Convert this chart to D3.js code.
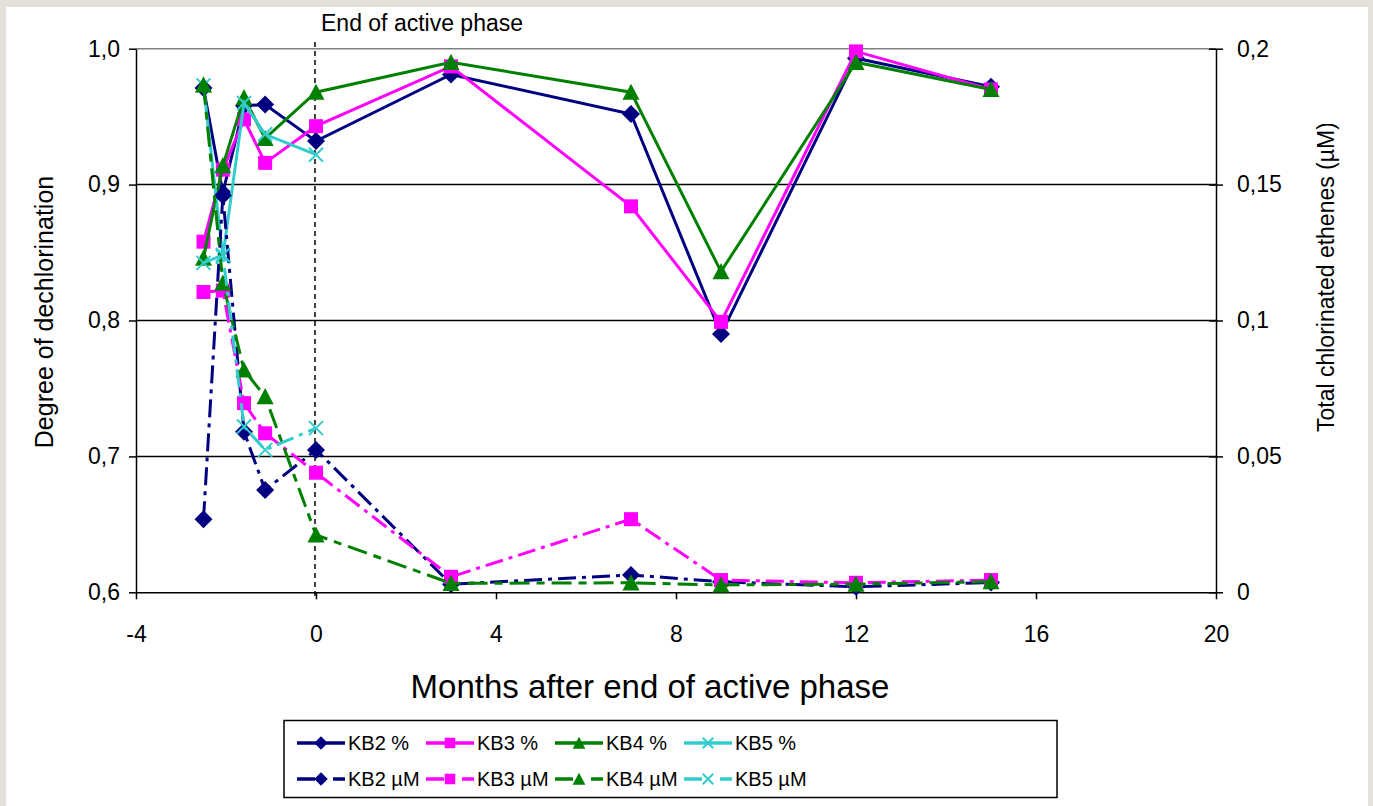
<!DOCTYPE html>
<html>
<head>
<meta charset="utf-8">
<script src="https://cdn.jsdelivr.net/npm/d3@7"></script>
<style>
  body { margin: 0; background: #e5e0da; }
  svg { display: block; }
  text { font-family: "Liberation Sans", Arial, sans-serif; fill: #000; }
</style>
</head>
<body>
<svg width="1373" height="806"></svg>
<script>
// months after end of active phase
const months = [-2.5, -2.07, -1.6, -1.13, 0, 3, 7, 9, 12, 15]

// degree of dechlorination (left axis)
const kb2Pct = [0.971, 0.894, 0.958, 0.959, 0.932, 0.981, 0.952, 0.790, 0.993, 0.972]
const kb3Pct = [0.858, 0.911, 0.948, 0.916, 0.943, 0.987, 0.884, 0.799, 0.998, 0.970]
const kb4Pct = [0.846, 0.914, 0.964, 0.934, 0.968, 0.990, 0.968, 0.836, 0.990, 0.970]
const kb5Pct = [0.973, 0.847, 0.960, 0.937, 0.922]

// total chlorinated ethenes, µM (right axis)
const kb2uM = [0.0269, 0.146, 0.0591, 0.0376, 0.0524, 0.0030, 0.0064, 0.0039, 0.0020, 0.0036]
const kb3uM = [0.1105, 0.111, 0.0696, 0.0585, 0.0440, 0.0057, 0.0269, 0.0045, 0.0035, 0.0045]
const kb4uM = [0.1867, 0.1138, 0.0818, 0.0720, 0.0211, 0.0033, 0.0035, 0.0027, 0.0030, 0.0039]
const kb5uM = [0.1212, 0.1241, 0.0610, 0.0524, 0.0604]

const xTicks = [-4, 0, 4, 8, 12, 16, 20]
const leftTicks = [0.6, 0.7, 0.8, 0.9, 1.0]
const rightTicks = [0, 0.05, 0.1, 0.15, 0.2]

const svg = d3.select("svg")

svg.append("rect").attr("x", 6).attr("y", 7).attr("width", 1362).attr("height", 799).attr("fill", "#fff")

let x = d3.scaleLinear().domain([-4, 20]).range([136, 1216])
let yL = d3.scaleLinear().domain([0.6, 1.0]).range([592.3, 48.7])
let yR = d3.scaleLinear().domain([0, 0.2]).range([592.3, 48.7])

const comma = d => String(d).replace(".", ",")

// gridlines
svg.append("g").selectAll("line").data([0.7, 0.8, 0.9]).enter().append("line")
  .attr("x1", x(-4)).attr("x2", x(20))
  .attr("y1", d => yL(d)).attr("y2", d => yL(d))
  .attr("stroke", "#000").attr("stroke-width", 1.5)
svg.append("line").attr("x1", x(-4)).attr("x2", x(20)).attr("y1", yL(1)).attr("y2", yL(1))
  .attr("stroke", "#808080").attr("stroke-width", 1.5)

// left axis
let leftAxis = d3.axisLeft(yL).tickValues(leftTicks).tickFormat(d => d3.format(".1f")(d).replace(".", ","))
  .tickSizeInner(7).tickSizeOuter(0).tickPadding(9)
let gl = svg.append("g").attr("transform", `translate(${x(-4)},0)`).call(leftAxis)

// right axis
let rightAxis = d3.axisRight(yR).tickValues(rightTicks).tickFormat(comma)
  .tickSizeInner(7).tickSizeOuter(0).tickPadding(14)
let gr = svg.append("g").attr("transform", `translate(${x(20)},0)`).call(rightAxis)
gr.selectAll(".tick line").attr("x1", -7)

// bottom axis (plain hyphen for negatives, like the original)
let bottomAxis = d3.axisBottom(x).tickValues(xTicks).tickFormat(d => String(d))
  .tickSizeInner(7).tickSizeOuter(0).tickPadding(26)
let gb = svg.append("g").attr("transform", `translate(0,${yL(0.6)})`).call(bottomAxis)

for (let g of [gl, gr, gb]) {
  g.select(".domain").attr("stroke", "#000").attr("stroke-width", 1.5)
  g.selectAll(".tick line").attr("stroke", "#000").attr("stroke-width", 1.5)
  g.selectAll("text").attr("font-size", 23).attr("font-family", "Liberation Sans, Arial, sans-serif")
}

// end of active phase marker
svg.append("line").attr("x1", x(0) - 1).attr("x2", x(0) - 1).attr("y1", 42).attr("y2", 600)
  .attr("stroke", "#000").attr("stroke-width", 1.5).attr("stroke-dasharray", "5,4")
svg.append("text").attr("x", 321).attr("y", 31).attr("font-size", 23).text("End of active phase")

// axis titles
svg.append("text").attr("transform", "translate(53,312) rotate(-90)").attr("text-anchor", "middle")
  .attr("font-size", 25).text("Degree of dechlorination")

// the right title is cut at its top end in the original
svg.append("clipPath").attr("id", "rclip")
  .append("rect").attr("x", 1290).attr("y", 124).attr("width", 70).attr("height", 400)
svg.append("g").attr("clip-path", "url(#rclip)")
  .append("text")
  .attr("transform", "translate(1334,432) rotate(-90)").attr("text-anchor", "start")
  .attr("font-size", 23).text("Total chlorinated ethenes (µM)")

svg.append("text").attr("x", 650).attr("y", 698).attr("text-anchor", "middle")
  .attr("font-size", 33).text("Months after end of active phase")

// marker shapes
function marker(g, kind, color, k) {
  if (kind == "diamond") {
    let r = 9 * k
    g.append("path").attr("d", `M0,${-r}L${r},0L0,${r}L${-r},0Z`).attr("fill", color)
  } else if (kind == "square") {
    let s = 7 * k
    g.append("rect").attr("x", -s).attr("y", -s).attr("width", 2 * s).attr("height", 2 * s).attr("fill", color)
  } else if (kind == "triangle") {
    let h = 8.5 * k
    g.append("path").attr("d", `M0,${-h}L${h},${h * 0.9}L${-h},${h * 0.9}Z`).attr("fill", color)
  } else {
    let s = 7 * k
    g.append("path").attr("d", `M${-s},${-s}L${s},${s}M${-s},${s}L${s},${-s}`)
      .attr("stroke", color).attr("stroke-width", 2).attr("fill", "none")
  }
}

const series = [
  { name: "KB2 %", vals: kb2Pct, y: yL, color: "#000080", kind: "diamond", dash: null },
  { name: "KB3 %", vals: kb3Pct, y: yL, color: "#ff00ff", kind: "square", dash: null },
  { name: "KB4 %", vals: kb4Pct, y: yL, color: "#008000", kind: "triangle", dash: null },
  { name: "KB5 %", vals: kb5Pct, y: yL, color: "#33cccc", kind: "x", dash: null },
  { name: "KB2 µM", vals: kb2uM, y: yR, color: "#000080", kind: "diamond", dash: "18,6,4,6" },
  { name: "KB3 µM", vals: kb3uM, y: yR, color: "#ff00ff", kind: "square", dash: "18,6,4,6" },
  { name: "KB4 µM", vals: kb4uM, y: yR, color: "#008000", kind: "triangle", dash: "20,7,8,7" },
  { name: "KB5 µM", vals: kb5uM, y: yR, color: "#33cccc", kind: "x", dash: "18,6,4,6" }
]

for (let s of series) {
  let pts = s.vals.map((v, i) => [months[i], v])
  let line = d3.line().x(d => x(d[0])).y(d => s.y(d[1]))
  let g = svg.append("g")
  g.append("path").attr("d", line(pts)).attr("fill", "none")
    .attr("stroke", s.color).attr("stroke-width", 3)
    .attr("stroke-dasharray", s.dash)
  pts.forEach(d => {
    let m = g.append("g").attr("transform", `translate(${x(d[0])},${s.y(d[1])})`)
    marker(m, s.kind, s.color, 1)
  })
}

// legend
let lg = svg.append("g")
lg.append("rect").attr("x", 284).attr("y", 720.5).attr("width", 773).attr("height", 77)
  .attr("fill", "#fff").attr("stroke", "#000").attr("stroke-width", 1.5)
const colX = [297, 426, 555, 684]
const rowY = [743, 779]
series.forEach((s, i) => {
  let cx = colX[i % 4], cy = rowY[Math.floor(i / 4)]
  lg.append("line").attr("x1", cx).attr("x2", cx + 48).attr("y1", cy).attr("y2", cy)
    .attr("stroke", s.color).attr("stroke-width", 3.5)
    .attr("stroke-dasharray", s.dash ? "18,18,12" : null)
  let m = lg.append("g").attr("transform", `translate(${cx + 24},${cy})`)
  marker(m, s.kind, s.color, 0.75)
  lg.append("text").attr("x", cx + 51).attr("y", cy + 7).attr("font-size", 20).text(s.name)
})
</script>
</body>
</html>
